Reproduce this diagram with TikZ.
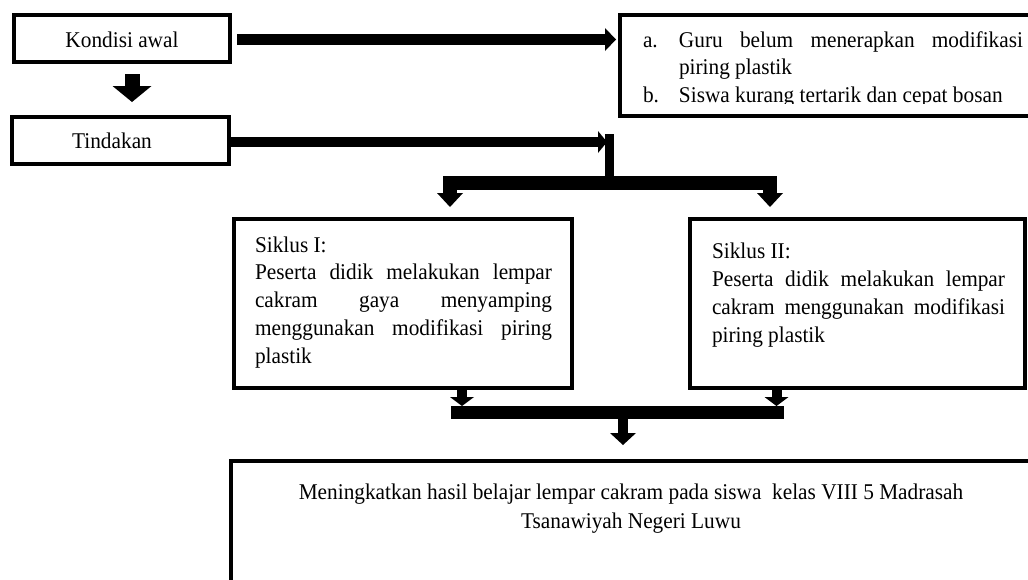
\documentclass[tikz,border=0pt]{standalone}
\usepackage{fontspec}
\setmainfont{Liberation Serif}[FakeStretch=0.947]
\usetikzlibrary{arrows.meta,calc}
\tikzset{
  box/.style={draw=black, line width=4pt, inner sep=0pt, outer sep=0pt, anchor=north west},
  txt/.style={inner sep=0pt, outer sep=0pt, font=\fontsize{22.5pt}{28pt}\selectfont},
  blk/.style n args={3}{draw=black, line width=#1pt, -{Triangle[width=#2pt,length=#3pt,line width=0pt]}},
  barline/.style={draw=black, line width=#1pt}
}
\begin{document}
\begin{tikzpicture}[x=1pt,y=-1pt]
\clip (0,0) rectangle (1028,579);
\fill[white] (0,0) rectangle (1028,579);
% boxes
\node[box, minimum width=216pt, minimum height=47pt] (kon) at (14,15) {};
\node[box, minimum width=217pt, minimum height=47pt] (tin) at (12,117) {};
\node[box, minimum width=420pt, minimum height=101pt] (rb) at (620,15) {};
\node[box, minimum width=338pt, minimum height=169pt] (s1) at (234,219) {};
\node[box, minimum width=335pt, minimum height=169pt] (s2) at (690,219) {};
\node[box, minimum width=801pt, minimum height=200pt] (res) at (231,461) {};
% texts
\node[txt, anchor=base] (kont) at (122,47) {Kondisi awal};
\node[txt, anchor=base] (tint) at (112,148) {Tindakan};
\begin{scope}
\clip (622,17) rectangle (1028,103.5);
\node[txt, anchor=base west] (rbt) at (643,47) {\vtop{\baselineskip=27.5pt
  \hbox{\makebox[36pt][l]{a.}\makebox[344pt][s]{Guru belum menerapkan modifikasi}}
  \hbox{\hspace*{36pt}piring plastik}
  \hbox{\makebox[36pt][l]{b.}Siswa kurang tertarik dan cepat bosan}}};
\end{scope}
\node[txt, anchor=base west] (s1t) at (255,252) {\vtop{\baselineskip=27.75pt
  \hbox{Siklus I:}
  \hbox{\makebox[297pt][s]{Peserta didik melakukan lempar}}
  \hbox{\makebox[297pt][s]{cakram gaya menyamping}}
  \hbox{\makebox[297pt][s]{menggunakan modifikasi piring}}
  \hbox{plastik}}};
\node[txt, anchor=base west] (s2t) at (712,258) {\vtop{\baselineskip=28pt
  \hbox{Siklus II:}
  \hbox{\makebox[293pt][s]{Peserta didik melakukan lempar}}
  \hbox{\makebox[293pt][s]{cakram menggunakan modifikasi}}
  \hbox{piring plastik}}};
\node[txt, anchor=base] (rest) at (631,499) {\vtop{\baselineskip=29pt
  \hbox to 760pt{\hss Meningkatkan hasil belajar lempar cakram pada siswa\ \ kelas VIII 5 Madrasah\hss}
  \hbox to 760pt{\hss Tsanawiyah Negeri Luwu\hss}}};
% junction coordinates
\coordinate (jt) at (609.5,134);
\coordinate (jb) at (609.5,190);
\coordinate (jm) at (609.5,183);
\coordinate (bl) at (451,412.5);
\coordinate (br) at (784,412.5);
\coordinate (bm) at (623,412.5);
% connectors
\draw[blk={11}{23}{11}] ($(kon.east)+(7,1)$) -- ($(kon.east -| rb.west)+(-4,1)$);
\draw[blk={15}{39}{16}] ($(kon.south)+(10,12)$) -- ($(kon.south |- tin.north)+(10,-15)$);
\draw[blk={10}{22}{9}] ($(tin.east)+(0,1.5)$) -- ($(tin.east -| jt)+(-2.5,1.5)$);
\draw[barline=9] (jt) -- (jb);
\draw[blk={14}{26}{14}] (jm) -| ($(s1.north west)+(216,-12)$);
\draw[blk={14}{26}{14}] (jm) -| ($(s2.north west)+(80,-12)$);
\draw[blk={10}{24}{9}] ($(s1.south)+(59,0)$) -- ($(s1.south)+(59,18)$);
\draw[blk={10}{24}{9}] ($(s2.south)+(-81,0)$) -- ($(s2.south)+(-81,18)$);
\draw[barline=13] (bl) -- (br);
\draw[blk={10}{26}{12}] ($(bm)+(0,6)$) -- ($(res.north -| bm)+(0,-16)$);
\end{tikzpicture}
\end{document}
